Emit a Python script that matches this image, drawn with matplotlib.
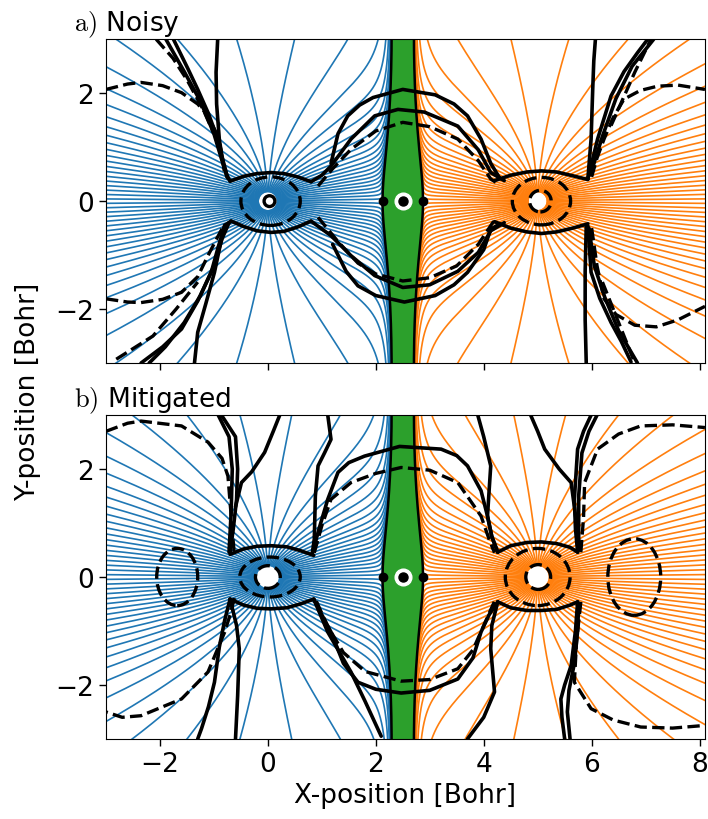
import numpy as np
import matplotlib.pyplot as plt
from matplotlib.patches import Ellipse

plt.rcParams['mathtext.fontset'] = 'cm'
plt.rcParams['font.size'] = 19

# nuclei and non-nuclear attractor on the bond axis (Bohr)
atom_x = [0.0, 5.0]
nna_x = 2.5
basin_colors = ['#1f77b4', '#ff7f0e']
nna_color = '#2ca02c'

# model density used to trace the gradient paths
atom_exp = 1.5
atom_aspect = 1.25
nna_amp = 0.039
nna_width = 0.3
nna_decay = 1.15
n_paths = 84
start_radius = {'noisy': 0.18, 'mitigated': 0.22}

# ---- black contours: (x list, y list) ----
# a) Noisy, solid
a_left_up = ([-1.75, -1.48, -1.30, -1.10, -0.93, -0.83, -0.76, -0.70], [3.0, 2.45, 2.07, 1.62, 1.15, 0.75, 0.48, 0.37])
a_left_up2 = ([-1.89, -1.55, -1.25, -1.0, -0.85, -0.74], [3.0, 2.4, 1.85, 1.25, 0.75, 0.42])
a_left_vert_up = ([-0.93, -0.96, -0.95, -0.90, -0.84, -0.76], [3.0, 2.39, 1.8, 1.15, 0.75, 0.45])
a_eye0_top = ([-0.70, -0.45, -0.2, 0.06, 0.3, 0.55, 0.80], [0.37, 0.46, 0.51, 0.53, 0.51, 0.45, 0.36])
a_eye0_bot = ([-0.68, -0.45, -0.2, 0.06, 0.3, 0.55, 0.80], [-0.37, -0.47, -0.55, -0.58, -0.56, -0.48, -0.37])
a_left_dn = ([-0.68, -0.80, -0.92, -1.05, -1.30, -1.6, -1.95, -2.35], [-0.37, -0.45, -0.85, -1.32, -1.85, -2.37, -2.7, -3.0])
a_left_dn2 = ([-0.72, -0.85, -1.0, -1.25, -1.55, -1.9, -2.2], [-0.4, -0.7, -1.2, -1.75, -2.25, -2.7, -3.0])
a_left_vert_dn = ([-0.80, -0.88, -0.99, -1.15, -1.30, -1.36], [-0.45, -0.8, -1.32, -1.9, -2.43, -3.0])
a_mid_in_top = ([0.80, 1.0, 1.17, 1.54, 1.98, 2.41, 2.9, 3.52, 3.9, 4.13, 4.38], [0.36, 0.48, 0.65, 1.15, 1.58, 1.70, 1.65, 1.39, 0.95, 0.53, 0.38])
a_mid_out_top = ([1.17, 1.30, 1.48, 1.7, 1.95, 2.5, 3.1, 3.45, 3.7, 3.95, 4.13, 4.30], [0.7, 1.25, 1.58, 1.78, 1.92, 2.07, 1.97, 1.8, 1.58, 1.15, 0.7, 0.42])
a_mid_in_bot = ([0.80, 1.17, 1.54, 1.98, 2.5, 3.0, 3.52, 3.9, 4.13, 4.38], [-0.37, -0.64, -1.01, -1.38, -1.6, -1.55, -1.3, -0.95, -0.55, -0.40])
a_mid_out_bot = ([1.2, 1.45, 1.67, 2.0, 2.53, 3.1, 3.45, 3.7, 4.0, 4.13, 4.3], [-0.8, -1.3, -1.57, -1.75, -1.87, -1.75, -1.55, -1.32, -0.9, -0.52, -0.42])
a_eye5_top = ([4.2, 4.5, 4.8, 5.07, 5.35, 5.65, 5.93], [0.38, 0.48, 0.54, 0.56, 0.54, 0.47, 0.40])
a_eye5_bot = ([4.2, 4.5, 4.8, 5.07, 5.35, 5.65, 5.93], [-0.38, -0.50, -0.57, -0.60, -0.57, -0.5, -0.42])
a_right_up = ([5.93, 6.0, 6.11, 6.36, 6.6, 6.85, 7.04], [0.41, 0.7, 1.15, 1.95, 2.4, 2.75, 3.0])
a_right_up2 = ([5.98, 6.2, 6.45, 6.75, 7.15], [0.5, 1.2, 1.9, 2.5, 3.0])
a_right_vert_up = ([5.93, 5.99, 6.02, 6.04, 6.07], [0.41, 1.15, 2.07, 2.6, 3.0])
a_right_dn = ([5.93, 5.99, 6.15, 6.36, 6.55, 6.73], [-0.46, -1.32, -1.8, -2.25, -2.6, -2.98])
a_right_dn2 = ([5.95, 6.05, 6.25, 6.5, 6.85], [-0.5, -1.2, -1.8, -2.4, -3.0])
a_right_vert_dn = ([5.90, 5.88, 5.88, 5.9], [-0.46, -1.3, -2.2, -3.0])
# a) Noisy, dashed
a_left_dash_up = ([-3.0, -2.6, -2.35, -1.95, -1.6, -1.3, -1.11, -0.95, -0.87, -0.80], [2.07, 2.17, 2.2, 2.14, 2.01, 1.8, 1.58, 1.25, 0.96, 0.5])
a_left_dash_dn = ([-3.0, -2.6, -2.35, -1.95, -1.6, -1.3, -1.11, -0.95, -0.80], [-1.81, -1.87, -1.88, -1.82, -1.69, -1.4, -1.01, -0.7, -0.42])
a_left_dash_cu = ([-2.07, -1.76, -1.5, -1.2, -1.0], [3.0, 2.65, 2.25, 1.7, 1.25])
a_left_dash_cd = ([-2.81, -2.13, -1.7, -1.3], [-2.93, -2.5, -2.0, -1.5])
a_mid_dash_top = ([0.93, 1.2, 1.54, 2.0, 2.5, 3.0, 3.52, 3.9, 4.13, 4.3], [0.28, 0.6, 0.96, 1.3, 1.46, 1.38, 1.15, 0.75, 0.41, 0.3])
a_mid_dash_bot = ([0.93, 1.3, 1.67, 2.0, 2.5, 3.0, 3.5, 3.9, 4.2], [-0.3, -0.75, -1.15, -1.35, -1.48, -1.42, -1.2, -0.8, -0.35])
a_right_dash_up = ([6.0, 6.1, 6.23, 6.4, 6.6, 6.9, 7.22, 7.6, 8.1], [0.45, 0.8, 1.15, 1.55, 1.89, 2.05, 2.13, 2.15, 2.07])
a_right_dash_dn = ([6.0, 6.1, 6.23, 6.45, 6.8, 7.2, 7.6, 8.1], [-0.5, -1.2, -1.81, -2.1, -2.3, -2.33, -2.2, -1.95])
a_right_dash_cu = ([6.36, 6.8, 7.1], [1.4, 2.39, 3.0])
a_right_dash_cd = ([6.2, 6.5, 6.8], [-1.5, -2.25, -3.0])
# a) rings around the nuclei: centre x, half-width, half-height, style
a_rings = [(0.05, 0.55, 0.45, '--'), (0.03, 0.10, 0.10, '-'), (5.07, 0.54, 0.44, '--'), (5.05, 0.20, 0.20, '--')]

# b) Mitigated, solid
b_eye0_top = ([-0.70, -0.45, -0.2, 0.06, 0.35, 0.6, 0.85], [0.42, 0.52, 0.57, 0.58, 0.56, 0.49, 0.40])
b_eye0_bot = ([-0.70, -0.45, -0.2, 0.06, 0.35, 0.6, 0.85], [-0.41, -0.52, -0.58, -0.59, -0.57, -0.5, -0.41])
b_left_up = ([-0.86, -0.6, -0.56, -0.58, -0.64, -0.70], [3.0, 2.6, 2.0, 1.44, 0.9, 0.46])
b_left_up2 = ([-0.92, -0.72, -0.66, -0.68, -0.72], [3.0, 2.6, 2.0, 1.2, 0.46])
b_left_up3 = ([0.22, 0.1, -0.06, -0.3, -0.49, -0.6], [3.0, 2.7, 2.31, 1.95, 1.75, 1.3])
b_right0_up = ([1.11, 1.17, 1.05, 0.93, 0.88, 0.86, 0.82], [3.0, 2.55, 2.3, 2.06, 1.5, 0.7, 0.42])
b_mid_top = ([0.82, 0.95, 1.11, 1.3, 1.5, 1.79, 2.44, 3.21, 3.5, 3.7, 3.95, 4.07, 4.15, 4.26], [0.42, 0.9, 1.44, 1.94, 2.12, 2.24, 2.42, 2.37, 2.25, 2.06, 1.6, 1.13, 0.75, 0.46])
b_mid_bot = ([0.85, 1.0, 1.17, 1.4, 1.67, 2.0, 2.47, 3.0, 3.52, 3.8, 3.95, 4.1, 4.26], [-0.41, -0.7, -1.02, -1.6, -1.95, -2.08, -2.15, -2.1, -1.89, -1.5, -1.02, -0.7, -0.46])
b_right0_dn = ([0.85, 1.11, 1.54, 1.8, 2.1], [-0.41, -1.02, -1.76, -2.3, -2.95])
b_left_dn = ([-0.70, -0.8, -0.9, -0.99, -1.1, -1.23, -1.3], [-0.41, -0.8, -1.3, -1.95, -2.4, -2.81, -3.0])
b_left_dn2 = ([-0.70, -0.58, -0.53, -0.56, -0.6], [-0.41, -0.9, -1.33, -2.2, -3.0])
b_left5_up = ([3.89, 4.0, 4.13, 4.1, 4.07, 4.15, 4.26], [3.0, 2.6, 2.06, 1.6, 1.13, 0.75, 0.46])
b_left5_dn = ([4.26, 4.15, 4.13, 4.2, 4.0, 3.7], [-0.46, -0.9, -1.33, -2.13, -2.6, -3.0])
b_eye5_top = ([4.26, 4.5, 4.8, 5.07, 5.35, 5.6, 5.74], [0.46, 0.58, 0.64, 0.65, 0.62, 0.55, 0.46])
b_eye5_bot = ([4.26, 4.5, 4.8, 5.07, 5.35, 5.6, 5.74], [-0.46, -0.57, -0.62, -0.62, -0.6, -0.52, -0.46])
b_right_up = ([5.99, 5.85, 5.74, 5.68, 5.7, 5.74], [3.0, 2.7, 2.37, 1.44, 0.9, 0.46])
b_right_up2 = ([6.1, 5.95, 5.82, 5.76, 5.76], [3.0, 2.7, 2.3, 1.5, 0.5])
b_right_up3 = ([4.87, 5.0, 5.13, 5.4, 5.62, 5.72], [3.0, 2.7, 2.37, 2.0, 1.75, 1.0])
b_right_dn = ([5.74, 5.7, 5.62, 5.5, 5.43, 5.45, 5.5], [-0.46, -1.0, -1.64, -2.0, -2.26, -2.6, -3.0])
b_right_dn2 = ([5.76, 5.74, 5.68, 5.58, 5.55, 5.6], [-0.5, -1.0, -1.6, -2.1, -2.5, -3.0])
# b) Mitigated, dashed
b_left_dash_up = ([-3.0, -2.6, -2.35, -1.6, -1.11, -0.85, -0.74, -0.68, -0.62], [2.7, 2.85, 2.89, 2.8, 2.5, 2.2, 1.87, 1.13, 0.39])
b_left_dash_dn = ([-0.62, -0.7, -0.8, -1.11, -1.6, -2.35, -2.7, -3.0], [-0.39, -0.7, -1.02, -1.76, -2.26, -2.57, -2.6, -2.5])
b_mid_dash_top = ([0.86, 1.0, 1.17, 1.54, 2.0, 2.47, 3.0, 3.52, 3.95, 4.1, 4.2], [0.45, 0.95, 1.44, 1.75, 1.92, 2.03, 1.98, 1.75, 1.13, 0.7, 0.45])
b_mid_dash_bot = ([0.9, 1.1, 1.4, 1.8, 2.47, 3.0, 3.52, 3.8, 4.0, 4.2], [-0.45, -0.9, -1.4, -1.75, -1.93, -1.9, -1.7, -1.35, -0.9, -0.45])
b_right_dash_up = ([5.8, 5.85, 5.87, 6.11, 6.5, 6.91, 7.5, 8.1], [0.46, 1.1, 1.75, 2.37, 2.65, 2.8, 2.82, 2.77])
b_right_dash_dn = ([5.8, 5.72, 5.68, 5.99, 6.4, 6.91, 7.5, 8.1], [-0.46, -1.2, -1.95, -2.44, -2.65, -2.78, -2.8, -2.75])
b_rings = [(0.04, 0.56, 0.37, '--'), (0.0, 0.23, 0.21, '--'), (5.0, 0.60, 0.53, '--'), (5.01, 0.23, 0.23, '--'),
           (-1.68, 0.38, 0.53, '--'), (6.79, 0.49, 0.71, '--')]

noisy_solid = [a_left_up, a_left_up2, a_left_vert_up, a_eye0_top, a_eye0_bot, a_left_dn, a_left_dn2, a_left_vert_dn,
               a_mid_in_top, a_mid_out_top, a_mid_in_bot, a_mid_out_bot, a_eye5_top, a_eye5_bot,
               a_right_up, a_right_up2, a_right_vert_up, a_right_dn, a_right_dn2, a_right_vert_dn]
noisy_dashed = [a_left_dash_up, a_left_dash_dn, a_left_dash_cu, a_left_dash_cd, a_mid_dash_top, a_mid_dash_bot,
                a_right_dash_up, a_right_dash_dn, a_right_dash_cu, a_right_dash_cd]
mitig_solid = [b_eye0_top, b_eye0_bot, b_left_up, b_left_up2, b_left_up3, b_right0_up, b_mid_top, b_mid_bot,
               b_right0_dn, b_left_dn, b_left_dn2, b_left5_up, b_left5_dn, b_eye5_top, b_eye5_bot,
               b_right_up, b_right_up2, b_right_up3, b_right_dn, b_right_dn2]
mitig_dashed = [b_left_dash_up, b_left_dash_dn, b_mid_dash_top, b_mid_dash_bot, b_right_dash_up, b_right_dash_dn]


def density(x, y):
    rho = np.zeros_like(x)
    for xa in atom_x:
        rho = rho + np.exp(-atom_exp * np.hypot(x - xa, y / atom_aspect))
    ridge = np.exp(-(x - nna_x) ** 2 / (2 * nna_width ** 2))
    return rho + nna_amp * ridge * np.exp(-nna_decay * np.hypot(y, 0.5))


def grad(x, y, h=1e-5):
    gx = (density(x + h, y) - density(x - h, y)) / (2 * h)
    gy = (density(x, y + h) - density(x, y - h)) / (2 * h)
    return gx, gy


def descend(x, y, nstep=650, step=0.012):
    xs, ys = [x], [y]
    for _ in range(nstep):
        gx, gy = grad(x, y)
        n = np.hypot(gx, gy) + 1e-300
        xm, ym = x - 0.5 * step * gx / n, y - 0.5 * step * gy / n
        gx, gy = grad(xm, ym)
        n = np.hypot(gx, gy) + 1e-300
        x, y = x - step * gx / n, y - step * gy / n
        xs.append(x)
        ys.append(y)
    return np.array(xs), np.array(ys)


def clip_path(px, py):
    out = (px < -3.3) | (px > 8.4) | (np.abs(py) > 3.3)
    if out.any():
        k = np.argmax(out) + 1
        return px[:k], py[:k]
    return px, py


def draw_panel(ax, r0, solid, dashed, rings):
    # gradient paths leaving each nucleus
    ang = (np.arange(n_paths) + 0.5) / n_paths * 2 * np.pi
    for xa, col in zip(atom_x, basin_colors):
        px, py = descend(xa + r0 * np.cos(ang), r0 * np.sin(ang))
        for i in range(n_paths):
            cx, cy = clip_path(px[:, i], py[:, i])
            ax.plot(cx, cy, color=col, lw=1.2, zorder=1)

    # basin of the non-nuclear attractor, bounded by the paths leaving the two bond points
    xs = np.linspace(0.5, 4.5, 8001)
    line = density(xs, np.zeros_like(xs))
    mins = np.where((line[1:-1] < line[:-2]) & (line[1:-1] < line[2:]))[0] + 1
    bcp = xs[mins]
    sides = []
    for xb in bcp:
        ux, uy = clip_path(*descend(xb, 1e-4))
        lx, ly = clip_path(*descend(xb, -1e-4))
        sides.append((np.concatenate([lx[::-1], ux]), np.concatenate([ly[::-1], uy])))
    (lx, ly), (rx, ry) = sides
    ax.fill(np.concatenate([lx, rx[::-1]]), np.concatenate([ly, ry[::-1]]), color=nna_color, lw=0, zorder=2)
    ax.plot(lx, ly, 'k-', lw=1.8, zorder=3)
    ax.plot(rx, ry, 'k-', lw=1.8, zorder=3)

    for cx, cy in solid:
        ax.plot(cx, cy, color='k', lw=2.6, solid_capstyle='round', solid_joinstyle='round', zorder=4)
    for cx, cy in dashed:
        ax.plot(cx, cy, color='k', lw=2.4, ls='--', zorder=4)
    for cx, a, b, ls in rings:
        ax.add_patch(Ellipse((cx, 0), 2 * a, 2 * b, fill=False, ec='k', lw=2.4, ls=ls, zorder=4))

    ax.plot(bcp, np.zeros_like(bcp), 'o', color='k', ms=6, zorder=6)
    ax.plot([nna_x], [0], 'o', color='white', ms=12, zorder=6)
    ax.plot([nna_x], [0], 'o', color='k', ms=6.5, zorder=7)

    ax.set_xlim(-3, 8.1)
    ax.set_ylim(-3, 3)
    ax.set_aspect('equal')
    ax.set_xticks([-2, 0, 2, 4, 6, 8])
    ax.set_yticks([-2, 0, 2])
    ax.tick_params(length=5, width=1, labelsize=19)


fig = plt.figure(figsize=(7.08, 8.2), dpi=100)
ax1 = fig.add_axes([0.1497, 0.556, 0.846, 0.395])
ax2 = fig.add_axes([0.1497, 0.0976, 0.846, 0.395])

draw_panel(ax1, start_radius['noisy'], noisy_solid, noisy_dashed, a_rings)
draw_panel(ax2, start_radius['mitigated'], mitig_solid, mitig_dashed, b_rings)
ax1.tick_params(labelbottom=False)

ax1.text(-0.054, 1.0, r'$\mathrm{a)}$ Noisy', transform=ax1.transAxes, ha='left', va='bottom', fontsize=19)
ax2.text(-0.054, 1.0, r'$\mathrm{b)}$ Mitigated', transform=ax2.transAxes, ha='left', va='bottom', fontsize=19)
ax2.set_xlabel('X-position [Bohr]', fontsize=19, labelpad=4)
fig.text(0.04, 0.522, 'Y-position [Bohr]', rotation=90, ha='center', va='center', fontsize=19)

fig.savefig('out.png', dpi=100)
